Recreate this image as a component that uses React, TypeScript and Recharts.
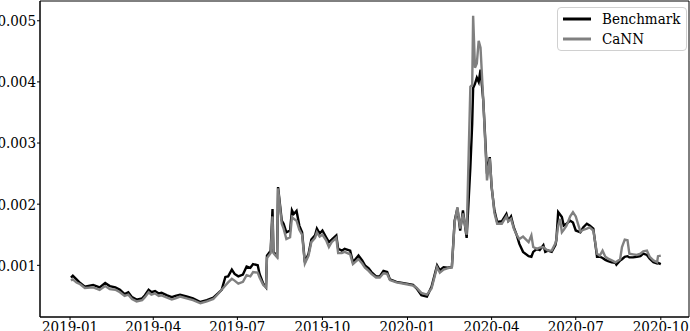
import { LineChart, Line, XAxis, YAxis, Legend, ReferenceArea } from 'recharts';

const dates = [
  '2019-01-02', '2019-01-04', '2019-01-08', '2019-01-12', '2019-01-17', '2019-01-26',
  '2019-02-02', '2019-02-08', '2019-02-13', '2019-02-19', '2019-02-24', '2019-03-01',
  '2019-03-05', '2019-03-09', '2019-03-14', '2019-03-20', '2019-03-23', '2019-03-27',
  '2019-03-30', '2019-04-03', '2019-04-07', '2019-04-10', '2019-04-16', '2019-04-21',
  '2019-04-25', '2019-04-30', '2019-05-07', '2019-05-14', '2019-05-22', '2019-05-29',
  '2019-06-05', '2019-06-10', '2019-06-14', '2019-06-18', '2019-06-21', '2019-06-25',
  '2019-06-28', '2019-07-02', '2019-07-07', '2019-07-11', '2019-07-15', '2019-07-18',
  '2019-07-23', '2019-07-25', '2019-07-29', '2019-08-01', '2019-08-02', '2019-08-06',
  '2019-08-08', '2019-08-09', '2019-08-13', '2019-08-14', '2019-08-18', '2019-08-20',
  '2019-08-23', '2019-08-27', '2019-08-29', '2019-08-31', '2019-09-03', '2019-09-06',
  '2019-09-09', '2019-09-12', '2019-09-16', '2019-09-19', '2019-09-23', '2019-09-25',
  '2019-09-28', '2019-10-01', '2019-10-05', '2019-10-08', '2019-10-11', '2019-10-16',
  '2019-10-18', '2019-10-22', '2019-10-25', '2019-10-31', '2019-11-03', '2019-11-09',
  '2019-11-13', '2019-11-16', '2019-11-20', '2019-11-23', '2019-11-28', '2019-12-02',
  '2019-12-06', '2019-12-10', '2019-12-13', '2019-12-20', '2019-12-31', '2020-01-07',
  '2020-01-11', '2020-01-16', '2020-01-22', '2020-01-27', '2020-02-02', '2020-02-05',
  '2020-02-09', '2020-02-13', '2020-02-18', '2020-02-21', '2020-02-24', '2020-02-27',
  '2020-03-01', '2020-03-05', '2020-03-09', '2020-03-11', '2020-03-12', '2020-03-14',
  '2020-03-16', '2020-03-18', '2020-03-20', '2020-03-23', '2020-03-27', '2020-03-30',
  '2020-04-01', '2020-04-04', '2020-04-07', '2020-04-12', '2020-04-17', '2020-04-19',
  '2020-04-22', '2020-04-25', '2020-04-28', '2020-05-01', '2020-05-05', '2020-05-11',
  '2020-05-14', '2020-05-16', '2020-05-20', '2020-05-23', '2020-05-27', '2020-05-29',
  '2020-06-01', '2020-06-05', '2020-06-09', '2020-06-10', '2020-06-12', '2020-06-14',
  '2020-06-16', '2020-06-18', '2020-06-21', '2020-06-25', '2020-06-28', '2020-07-01',
  '2020-07-06', '2020-07-09', '2020-07-13', '2020-07-16', '2020-07-20', '2020-07-24',
  '2020-07-27', '2020-07-30', '2020-08-02', '2020-08-05', '2020-08-09', '2020-08-13',
  '2020-08-14', '2020-08-18', '2020-08-20', '2020-08-23', '2020-08-26', '2020-08-28',
  '2020-09-01', '2020-09-05', '2020-09-09', '2020-09-12', '2020-09-16', '2020-09-19',
  '2020-09-23', '2020-09-27', '2020-09-28', '2020-10-01',
];

const benchmark = [
  0.00080, 0.00083, 0.00077, 0.00071, 0.00065, 0.00068,
  0.00064, 0.00071, 0.00066, 0.00064, 0.00060, 0.00053,
  0.00056, 0.00048, 0.00044, 0.00046, 0.00051, 0.00060,
  0.00056, 0.00058, 0.00054, 0.00055, 0.00051, 0.00048,
  0.00050, 0.00052, 0.00049, 0.00046, 0.00040, 0.00043,
  0.00047, 0.00054, 0.00060, 0.00081, 0.00082, 0.00093,
  0.00086, 0.00082, 0.00085, 0.00098, 0.00096, 0.00102,
  0.00100, 0.00086, 0.00070, 0.00064, 0.00116, 0.00124,
  0.00192, 0.00122, 0.00115, 0.00228, 0.00173, 0.00168,
  0.00154, 0.00157, 0.00190, 0.00184, 0.00189, 0.00165,
  0.00154, 0.00105, 0.00119, 0.00142, 0.00149, 0.00160,
  0.00152, 0.00157, 0.00146, 0.00138, 0.00142, 0.00149,
  0.00127, 0.00124, 0.00127, 0.00124, 0.00105, 0.00116,
  0.00108, 0.00100, 0.00095, 0.00089, 0.00082, 0.00082,
  0.00091, 0.00089, 0.00077, 0.00073, 0.00070, 0.00068,
  0.00062, 0.00051, 0.00049, 0.00065, 0.00100, 0.00092,
  0.00097, 0.00096, 0.00097, 0.00173, 0.00193, 0.00157,
  0.00190, 0.00145, 0.00260, 0.00332, 0.00390, 0.00397,
  0.00407, 0.00400, 0.00420, 0.00369, 0.00250, 0.00277,
  0.00228, 0.00190, 0.00171, 0.00172, 0.00184, 0.00173,
  0.00180, 0.00162, 0.00150, 0.00135, 0.00122, 0.00115,
  0.00114, 0.00122, 0.00127, 0.00125, 0.00133, 0.00122,
  0.00124, 0.00122, 0.00133, 0.00141, 0.00187, 0.00183,
  0.00179, 0.00165, 0.00168, 0.00173, 0.00170, 0.00157,
  0.00154, 0.00162, 0.00168, 0.00165, 0.00160, 0.00114,
  0.00114, 0.00112, 0.00109, 0.00107, 0.00105, 0.00104,
  0.00101, 0.00108, 0.00110, 0.00114, 0.00115, 0.00113,
  0.00113, 0.00114, 0.00115, 0.00119, 0.00117, 0.00111,
  0.00105, 0.00103, 0.00104, 0.00102,
];

const cann = [
  0.00075, 0.00077, 0.00072, 0.00069, 0.00063, 0.00064,
  0.00060, 0.00066, 0.00061, 0.00060, 0.00056, 0.00050,
  0.00052, 0.00045, 0.00041, 0.00043, 0.00048, 0.00056,
  0.00052, 0.00054, 0.00050, 0.00051, 0.00047, 0.00044,
  0.00046, 0.00049, 0.00046, 0.00043, 0.00038, 0.00041,
  0.00045, 0.00053, 0.00060, 0.00067, 0.00072, 0.00078,
  0.00075, 0.00070, 0.00073, 0.00084, 0.00082, 0.00089,
  0.00088, 0.00080, 0.00068, 0.00064, 0.00112, 0.00120,
  0.00180, 0.00120, 0.00113, 0.00226, 0.00168, 0.00160,
  0.00143, 0.00146, 0.00179, 0.00176, 0.00173, 0.00158,
  0.00150, 0.00103, 0.00116, 0.00138, 0.00145, 0.00154,
  0.00147, 0.00150, 0.00141, 0.00130, 0.00138, 0.00145,
  0.00120, 0.00120, 0.00122, 0.00118, 0.00102, 0.00110,
  0.00103, 0.00096, 0.00091, 0.00086, 0.00080, 0.00080,
  0.00087, 0.00086, 0.00076, 0.00072, 0.00069, 0.00067,
  0.00063, 0.00055, 0.00052, 0.00062, 0.00097, 0.00088,
  0.00093, 0.00095, 0.00097, 0.00170, 0.00195, 0.00160,
  0.00185, 0.00150, 0.00392, 0.00395, 0.00508, 0.00423,
  0.00430, 0.00467, 0.00456, 0.00369, 0.00239, 0.00275,
  0.00230, 0.00186, 0.00168, 0.00168, 0.00180, 0.00172,
  0.00176, 0.00160, 0.00150, 0.00143, 0.00147, 0.00138,
  0.00149, 0.00130, 0.00127, 0.00129, 0.00130, 0.00127,
  0.00124, 0.00124, 0.00136, 0.00142, 0.00165, 0.00176,
  0.00154, 0.00158, 0.00165, 0.00180, 0.00187, 0.00180,
  0.00155, 0.00158, 0.00160, 0.00162, 0.00157, 0.00119,
  0.00116, 0.00124, 0.00114, 0.00111, 0.00108, 0.00105,
  0.00106, 0.00110, 0.00130, 0.00142, 0.00141, 0.00119,
  0.00118, 0.00117, 0.00119, 0.00123, 0.00124, 0.00114,
  0.00108, 0.00105, 0.00115, 0.00116,
];

const xTicks = ['2019-01', '2019-04', '2019-07', '2019-10', '2020-01', '2020-04', '2020-07', '2020-10'];
const yTicks = [0.001, 0.002, 0.003, 0.004, 0.005];

const SERIES = [
  { key: 'benchmark', name: 'Benchmark', color: '#000000' },
  { key: 'cann', name: 'CaNN', color: '#808080' },
];

const toTime = (s: string) => Date.parse(s.length === 7 ? s + '-01T00:00:00Z' : s + 'T00:00:00Z');

const data = dates.map((d, i) => ({ t: toTime(d), benchmark: benchmark[i], cann: cann[i] }));

const X_MIN = Date.parse('2018-11-29T12:00:00Z');
const X_MAX = Date.parse('2020-10-31T12:00:00Z');
const Y_MIN = 0.000155;
const Y_MAX = 0.005323;

const FONT = "'DejaVu Serif', serif";

const fmtMonth = (v: number) => {
  const d = new Date(v);
  return `${d.getUTCFullYear()}-${String(d.getUTCMonth() + 1).padStart(2, '0')}`;
};

const renderLegend = () => (
  <div
    style={{
      border: '1px solid #d0d0d0',
      borderRadius: 4,
      background: 'rgba(255,255,255,0.85)',
      padding: '1px 6px 1px 5px',
      fontFamily: FONT,
      fontStretch: 'condensed',
      fontSize: 15,
      color: '#000',
    }}
  >
    {SERIES.map(s => (
      <div key={s.key} style={{ display: 'flex', alignItems: 'center', height: 20 }}>
        <svg width={28} height={4} style={{ display: 'block' }}>
          <line x1={0} y1={2} x2={28} y2={2} stroke={s.color} strokeWidth={3} />
        </svg>
        <span style={{ marginLeft: 11, lineHeight: '20px' }}>{s.name}</span>
      </div>
    ))}
  </div>
);

export default function App() {
  return (
    <div style={{ position: 'absolute', left: 0, top: 0, background: '#fff', fontFamily: FONT, fontStretch: 'condensed' }}>
      <LineChart width={690} height={331} data={data} margin={{ top: 1, right: 1, bottom: 0, left: 0 }}>
        <XAxis
          dataKey='t'
          type='number'
          domain={[X_MIN, X_MAX]}
          ticks={xTicks.map(toTime)}
          tickFormatter={fmtMonth}
          allowDataOverflow
          height={14}
          tickSize={3}
          tickMargin={1}
          stroke='#000'
          tick={{ fontSize: 15, fill: '#000' }}
        />
        <YAxis
          type='number'
          domain={[Y_MIN, Y_MAX]}
          ticks={yTicks}
          tickFormatter={(v: number) => v.toFixed(3)}
          allowDataOverflow
          width={40}
          tickSize={3}
          tickMargin={1}
          stroke='#000'
          tick={{ fontSize: 15, fill: '#000' }}
        />
        <ReferenceArea x1={X_MIN} x2={X_MAX} y1={Y_MIN} y2={Y_MAX} fill='none' stroke='#000' strokeWidth={1} />
        {SERIES.map(s => (
          <Line
            key={s.key}
            type='linear'
            dataKey={s.key}
            name={s.name}
            stroke={s.color}
            strokeWidth={2.4}
            dot={false}
            isAnimationActive={false}
          />
        ))}
        <Legend
          layout='horizontal'
          align='center'
          verticalAlign='middle'
          content={renderLegend}
          wrapperStyle={{ position: 'absolute', top: 7, left: 557, width: 'auto', height: 'auto' }}
        />
      </LineChart>
    </div>
  );
}
